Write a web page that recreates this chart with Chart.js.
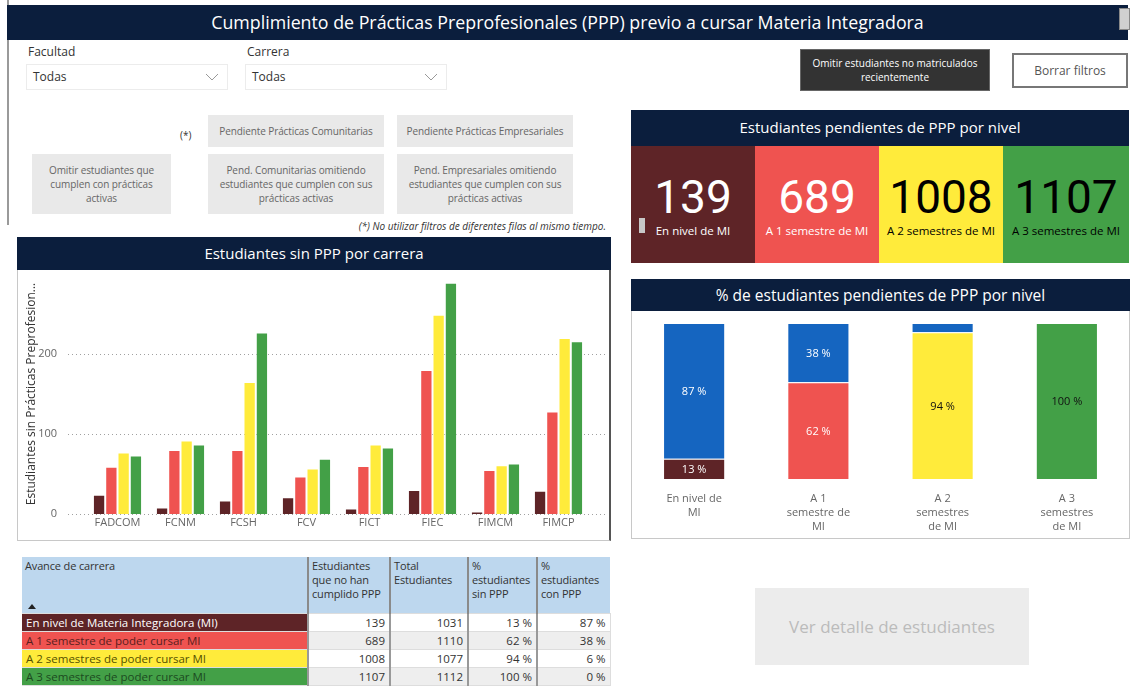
<!DOCTYPE html>
<html lang="es">
<head>
<meta charset="utf-8">
<title>Cumplimiento de Prácticas Preprofesionales</title>
<script src="https://cdn.jsdelivr.net/npm/chart.js@4.4.0/dist/chart.umd.min.js"></script>
<style>
    body {
        margin: 0;
        width: 1134px;
        height: 689px;
        overflow: hidden;
        background: #fff;
        font-family: "Open Sans", sans-serif;
        color: #333;
        position: relative;
    }
    .abs { position: absolute; box-sizing: border-box; }
    .navy { background: #0b1e3d; color: #fff; text-align: center; }
    .edge { left: 7px; top: 0; width: 2px; height: 225px; background: #9a9a9a; }
    .title-bar { left: 7px; top: 5px; width: 1121px; height: 35px; font-size: 17.8px; line-height: 35px; }
    .corner { left: 1119px; top: 8px; width: 11px; height: 22px; background: #d0d0d0; border: 1px solid #888; }
    .lbl { font-size: 12px; color: #333; }
    .dropdown { height: 26px; border: 1px solid #ececec; font-size: 12px; line-height: 24px; padding-left: 6px; color: #333; }
    .dropdown svg { position: absolute; right: 8px; top: 8px; }
    .gbtn { background: #e9e9e9; color: #666; font-size: 10px; line-height: 14px; display: flex; align-items: center; justify-content: center; text-align: center; padding: 0 6px; letter-spacing: -0.1px; }
    .dark-btn { left: 800px; top: 49px; width: 190px; height: 42px; background: #333; border: 1px solid #666; color: #fff; font-size: 10px; line-height: 14px; display: flex; align-items: center; justify-content: center; text-align: center; }
    .clear-btn { left: 1012px; top: 53px; width: 116px; height: 35px; border: 2px solid #777; color: #555; font-size: 12px; display: flex; align-items: center; justify-content: center; }
    .note { left: 300px; top: 219px; width: 306px; text-align: right; font-size: 10px; font-style: italic; color: #333; }
    .panel-head { font-size: 15px; line-height: 33px; height: 33px; }
    .panel-body { border: 1px solid #c8c8c8; border-top: none; background: #fff; }
    .kpi { top: 146px; height: 117px; text-align: center; }
    .kpi .num { position: absolute; left: 0; right: 0; top: 21px; font-size: 46px; line-height: 60px; font-family: Roboto, sans-serif; font-weight: 400; }
    .kpi .txt { position: absolute; left: 0; right: 0; top: 77px; font-size: 11.5px; line-height: 16px; }
    table { border-collapse: collapse; font-size: 11.5px; table-layout: fixed; width: 588px; }
    th, td { box-sizing: border-box; }
    th { background: #bdd7ee; font-weight: normal; font-size: 11px; text-align: left; vertical-align: top; padding: 2px 3px; line-height: 14px; height: 56px; border-left: 2px solid #8a8a8a; color: #333; letter-spacing: -0.15px; }
    th:first-child { border-left: none; position: relative; }
    td { height: 18px; padding: 0 4px; text-align: right; border: 1px solid #ddd; border-left: 2px solid #999; color: #333; white-space: nowrap; overflow: hidden; }
    td.name { text-align: left; border-left: none; }
    tr.odd td.v { background: #fff; }
    tr.even td.v { background: #eeeeee; }
    .detail-btn { left: 755px; top: 588px; width: 274px; height: 77px; background: #ececec; color: #bbb; font-size: 17px; display: flex; align-items: center; justify-content: center; }
</style>
</head>
<body>
<div class="abs edge"></div>
<div class="abs navy title-bar">Cumplimiento de Prácticas Preprofesionales (PPP) previo a cursar Materia Integradora</div>
<div class="abs corner"></div>

<div class="abs lbl" style="left:28px; top:43px;">Facultad</div>
<div class="abs dropdown" style="left:26px; top:64px; width:202px;">Todas
    <svg width="14" height="8"><polyline points="1,1 7,7 13,1" fill="none" stroke="#999" stroke-width="1"/></svg></div>
<div class="abs lbl" style="left:247px; top:43px;">Carrera</div>
<div class="abs dropdown" style="left:245px; top:64px; width:202px;">Todas
    <svg width="14" height="8"><polyline points="1,1 7,7 13,1" fill="none" stroke="#999" stroke-width="1"/></svg></div>

<div class="abs dark-btn">Omitir estudiantes no matriculados<br>recientemente</div>
<div class="abs clear-btn">Borrar filtros</div>

<div class="abs" style="left:180px; top:128px; font-size:10px; color:#333;">(*)</div>
<div class="abs gbtn" style="left:208px; top:115px; width:176px; height:32px; white-space:nowrap;">Pendiente Prácticas Comunitarias</div>
<div class="abs gbtn" style="left:397px; top:115px; width:176px; height:32px; white-space:nowrap;">Pendiente Prácticas Empresariales</div>
<div class="abs gbtn" style="left:32px; top:154px; width:139px; height:60px;">Omitir estudiantes que cumplen con prácticas activas</div>
<div class="abs gbtn" style="left:208px; top:154px; width:176px; height:60px;">Pend. Comunitarias omitiendo estudiantes que cumplen con sus prácticas activas</div>
<div class="abs gbtn" style="left:397px; top:154px; width:176px; height:60px;">Pend. Empresariales omitiendo estudiantes que cumplen con sus prácticas activas</div>
<div class="abs note">(*) No utilizar filtros de diferentes filas al mismo tiempo.</div>

<!-- Estudiantes sin PPP por carrera -->
<div class="abs navy panel-head" style="left:17px; top:237px; width:594px;">Estudiantes sin PPP por carrera</div>
<div class="abs panel-body" style="left:17px; top:270px; width:594px; height:271px; border-right:2px solid #555;">
    <canvas id="barChart" width="592" height="270"></canvas>
</div>

<!-- KPI -->
<div class="abs navy panel-head" style="left:631px; top:110px; width:498px; height:36px; line-height:34px;">Estudiantes pendientes de PPP por nivel</div>
<div id="kpis"></div>

<!-- % por nivel -->
<div class="abs navy panel-head" style="left:631px; top:279px; width:499px; font-size:15.5px;">% de estudiantes pendientes de PPP por nivel</div>
<div class="abs panel-body" style="left:631px; top:311px; width:499px; height:228px;">
    <canvas id="pctChart" width="497" height="227"></canvas>
</div>

<!-- tabla -->
<div class="abs" style="left:22px; top:557px;">
    <table id="tabla">
        <colgroup>
            <col style="width:286px;"><col style="width:82px;"><col style="width:78px;"><col style="width:69px;"><col style="width:73px;">
        </colgroup>
        <thead>
            <tr>
                <th>Avance de carrera
                    <svg style="position:absolute; left:6px; top:47px;" width="8" height="5"><polygon points="0,5 4,0 8,5" fill="#222"/></svg></th>
                <th>Estudiantes que no han cumplido PPP</th>
                <th>Total Estudiantes</th>
                <th>% estudiantes sin PPP</th>
                <th>% estudiantes con PPP</th>
            </tr>
        </thead>
        <tbody></tbody>
    </table>
</div>

<div class="abs detail-btn">Ver detalle de estudiantes</div>

<script>
// Categorías y series
const carreras = ['FADCOM', 'FCNM', 'FCSH', 'FCV', 'FICT', 'FIEC', 'FIMCM', 'FIMCP'];
const enNivelMI = [24, 8, 17, 21, 7, 30, 3, 29];
const unSemestre = [59, 80, 80, 47, 60, 180, 55, 128];
const dosSemestres = [77, 92, 165, 57, 87, 249, 61, 220];
const tresSemestres = [73, 87, 227, 69, 83, 289, 63, 216];

const nivelesCorto = ['En nivel de MI', 'A 1 semestre de MI', 'A 2 semestres de MI', 'A 3 semestres de MI'];
const nivelesLargo = ['En nivel de Materia Integradora (MI)', 'A 1 semestre de poder cursar MI', 'A 2 semestres de poder cursar MI', 'A 3 semestres de poder cursar MI'];
const nivelesEje = [['En nivel de', 'MI'], ['A 1', 'semestre de', 'MI'], ['A 2', 'semestres', 'de MI'], ['A 3', 'semestres', 'de MI']];

const sinPPP = [139, 689, 1008, 1107];
const totalEstudiantes = [1031, 1110, 1077, 1112];
const pctSinPPP = [13, 62, 94, 100];
const pctConPPP = [87, 38, 6, 0];

const yTicks = [0, 100, 200];

// Colores
const nivelColors = ['#5e2427', '#ef5350', '#ffeb3b', '#43a047'];
const nivelText = ['#ffffff', '#ffffff', '#111111', '#111111'];
const tablaText = ['#ffffff', '#5a1e1e', '#555000', '#1c4a1f'];
const conColor = '#1565c0';

// KPI cards
const kpiBox = document.getElementById('kpis');
const kpiLeft = [631, 755, 879, 1003];
const kpiWidth = [124, 124, 124, 126];
sinPPP.forEach((v, i) => {
    const card = document.createElement('div');
    card.className = 'abs kpi';
    card.style.left = kpiLeft[i] + 'px';
    card.style.width = kpiWidth[i] + 'px';
    card.style.background = nivelColors[i];
    card.style.color = i < 2 ? '#fff' : '#000';
    card.innerHTML = `<div class="num">${v}</div><div class="txt">${nivelesCorto[i]}</div>`;
    if (i === 0) {
        card.innerHTML += '<div style="position:absolute; left:8px; top:72px; width:6px; height:15px; background:#c8c8c8;"></div>';
    }
    kpiBox.appendChild(card);
});

// Tabla
const tbody = document.querySelector('#tabla tbody');
nivelesLargo.forEach((n, i) => {
    const tr = document.createElement('tr');
    tr.className = i % 2 === 0 ? 'odd' : 'even';
    tr.innerHTML = `<td class="name" style="background:${nivelColors[i]}; color:${tablaText[i]};">${n}</td>
        <td class="v">${sinPPP[i]}</td>
        <td class="v">${totalEstudiantes[i]}</td>
        <td class="v">${pctSinPPP[i]} %</td>
        <td class="v">${pctConPPP[i]} %</td>`;
    tbody.appendChild(tr);
});

// Dotted gridlines that run a bit past the plot area (Power BI look)
const dottedGrid = {
    id: 'dottedGrid',
    beforeDatasetsDraw(chart, args, opts) {
        const { ctx, chartArea, scales: { y } } = chart;
        ctx.save();
        ctx.strokeStyle = '#a0a0a0';
        ctx.lineWidth = 1;
        ctx.setLineDash([1, 3]);
        yTicks.forEach(v => {
            const py = Math.round(y.getPixelForValue(v)) + 0.5;
            ctx.beginPath();
            ctx.moveTo(chartArea.left - opts.extendLeft, py);
            ctx.lineTo(chartArea.right + opts.extendRight, py);
            ctx.stroke();
        });
        ctx.restore();
    }
};

// Labels inside the stacked bars
const barLabels = {
    id: 'barLabels',
    afterDatasetsDraw(chart) {
        const { ctx } = chart;
        ctx.save();
        ctx.font = '11px "Open Sans", sans-serif';
        ctx.textAlign = 'center';
        ctx.textBaseline = 'middle';
        chart.data.datasets.forEach((ds, di) => {
            const meta = chart.getDatasetMeta(di);
            meta.data.forEach((bar, i) => {
                const v = ds.data[i];
                if (v < 10) return;
                ctx.fillStyle = di === 0 ? nivelText[i] : '#ffffff';
                ctx.fillText(v + ' %', bar.x, (bar.y + bar.base) / 2 + 1);
            });
        });
        ctx.restore();
    }
};

Chart.defaults.font.family = '"Open Sans", sans-serif';
Chart.defaults.color = '#666';

new Chart(document.getElementById('barChart'), {
    type: 'bar',
    data: {
        labels: carreras,
        datasets: [enNivelMI, unSemestre, dosSemestres, tresSemestres].map((serie, i) => ({
            label: nivelesCorto[i],
            data: serie,
            backgroundColor: nivelColors[i],
            borderColor: 'rgba(255, 255, 255, 0.45)',
            borderWidth: 1,
            barPercentage: 1,
            categoryPercentage: 0.78
        }))
    },
    options: {
        responsive: false,
        animation: false,
        layout: { padding: { top: 4, right: 20, left: 0, bottom: 0 } },
        plugins: {
            legend: { display: false },
            tooltip: { enabled: false },
            dottedGrid: { extendLeft: 18, extendRight: 15 }
        },
        scales: {
            x: {
                grid: { display: false, drawTicks: false },
                border: { display: false },
                ticks: { color: '#666', font: { size: 11 }, padding: 2 },
                afterFit: scale => { scale.height = 26; }
            },
            y: {
                min: 0,
                max: 300,
                afterBuildTicks: scale => { scale.ticks = yTicks.map(v => ({ value: v })); },
                ticks: { color: '#666', font: { size: 11 }, padding: 29 },
                grid: { display: false, drawTicks: false },
                border: { display: false },
                title: {
                    display: true,
                    text: 'Estudiantes sin Prácticas Preprofesion...',
                    color: '#333',
                    font: { size: 12 },
                    padding: { top: 6, bottom: 0 }
                },
                afterFit: scale => {
                    scale.width = 68;
                    scale.paddingTop = 0;
                    scale.paddingBottom = 0;
                }
            }
        }
    },
    plugins: [dottedGrid]
});

new Chart(document.getElementById('pctChart'), {
    type: 'bar',
    data: {
        labels: nivelesEje,
        datasets: [
            {
                label: '% estudiantes sin PPP',
                data: pctSinPPP,
                backgroundColor: nivelColors,
                borderColor: 'rgba(255, 255, 255, 0.35)',
                borderWidth: 1,
                barPercentage: 0.5,
                categoryPercentage: 1
            },
            {
                label: '% estudiantes con PPP',
                data: pctConPPP,
                backgroundColor: conColor,
                borderColor: 'rgba(255, 255, 255, 0.35)',
                borderWidth: 1,
                barPercentage: 0.5,
                categoryPercentage: 1
            }
        ]
    },
    options: {
        responsive: false,
        animation: false,
        layout: { padding: { top: 12, right: 0, left: 0, bottom: 0 } },
        plugins: { legend: { display: false }, tooltip: { enabled: false } },
        scales: {
            x: {
                stacked: true,
                grid: { display: false, drawTicks: false },
                border: { display: false },
                ticks: { color: '#666', font: { size: 11, lineHeight: 1.27 }, padding: 13, maxRotation: 0, autoSkip: false },
                afterFit: scale => { scale.height = 59; }
            },
            y: { stacked: true, display: false, min: 0, max: 100 }
        }
    },
    plugins: [barLabels]
});
</script>
</body>
</html>
